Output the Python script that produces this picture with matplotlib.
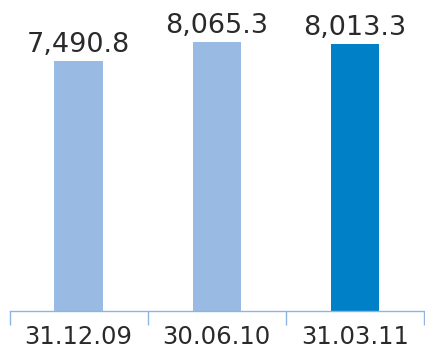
import matplotlib.pyplot as plt
import numpy as np

# Data
dates = ["31.12.09", "30.06.10", "31.03.11"]
values = [7490.8, 8065.3, 8013.3]
colors = ["#99BBE3", "#99BBE3", "#0080C6"]

x = np.arange(len(dates))

fig = plt.figure(figsize=(4.25, 3.49), dpi=100)
ax = fig.add_axes([9.5 / 425, 1 - 311 / 349, 414.5 / 425, 311 / 349])

bars = ax.bar(x, values, width=0.35, color=colors)

for b, v in zip(bars, values):
    ax.annotate(f"{v:,.1f}", (b.get_x() + b.get_width() / 2, v),
                xytext=(0, 2), textcoords="offset points",
                ha="center", va="bottom", fontsize=19.5, color="#2a2a2a")

ax.set_xlim(-0.5, 2.5)
ax.set_ylim(0, 9320)

for s in ["top", "right", "left"]:
    ax.spines[s].set_visible(False)
ax.spines["bottom"].set_color("#8DB4E2")
ax.spines["bottom"].set_linewidth(1.0)

ax.set_yticks([])
ax.set_xticks(x)
ax.set_xticklabels(dates, fontsize=17.5, color="#2a2a2a")
ax.tick_params(axis="x", which="major", length=0, pad=10)
ax.set_xticks([-0.5, 0.5, 1.5, 2.5], minor=True)
ax.tick_params(axis="x", which="minor", length=10, width=1.0,
               color="#8DB4E2", direction="out")

fig.savefig("out.png", dpi=100)
